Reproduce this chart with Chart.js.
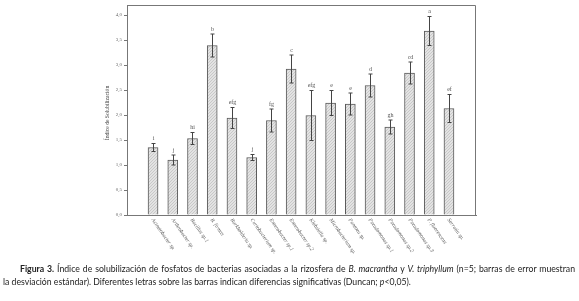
<!DOCTYPE html>
<html>
<head>
<meta charset="utf-8">
<script src="https://cdn.jsdelivr.net/npm/chart.js@4.4.1/dist/chart.umd.min.js"></script>
<style>
    html, body { margin: 0; padding: 0; background: #fff; }
    #wrap { position: relative; width: 579px; height: 301px; overflow: hidden; }
    #chart { position: absolute; left: 0; top: 0; }
    .cap { position: absolute; font-family: Lato, 'Open Sans', sans-serif; font-size: 8.7px; color: #222; white-space: nowrap; }
    #cap1 { left: 20px; top: 263px; width: 555px; text-align: justify; text-align-last: justify; }
    #cap2 { left: 3px; top: 276px; }
</style>
</head>
<body>
<div id="wrap">
    <canvas id="chart" width="579" height="301"></canvas>
    <div class="cap" id="cap1"><b>Figura 3.</b> Índice de solubilización de fosfatos de bacterias asociadas a la rizosfera de <i>B. macrantha</i> y <i>V. triphyllum</i> (n=5; barras de error muestran</div>
    <div class="cap" id="cap2">la desviación estándar). Diferentes letras sobre las barras indican diferencias significativas (Duncan; <i>p</i>&lt;0,05).</div>
</div>
<script>
// ===== Índice de solubilización (bars + SD + Duncan letters) =====
const bacteria = [
    'Acinetobacter sp.', 'Arthrobacter sp.', 'Bacillus sp.1', 'B. firmus',
    'Burkholderia sp.', 'Curtobacterium sp.', 'Enterobacter sp.1', 'Enterobacter sp.2',
    'Klebsiella sp.', 'Microbacterium sp.', 'Pantoea sp.', 'Pseudomonas sp.1',
    'Pseudomonas sp.2', 'Pseudomonas sp.3', 'P. fluorescens', 'Serratia sp.'
];
const means  = [1.35, 1.10, 1.53, 3.39, 1.94, 1.15, 1.89, 2.92, 1.99, 2.24, 2.22, 2.59, 1.76, 2.84, 3.68, 2.13];
const sd     = [0.08, 0.10, 0.12, 0.23, 0.21, 0.06, 0.23, 0.28, 0.50, 0.25, 0.22, 0.23, 0.14, 0.22, 0.29, 0.28];
const letters = ['i', 'j', 'hi', 'b', 'efg', 'j', 'fg', 'c', 'efg', 'e', 'e', 'd', 'gh', 'cd', 'a', 'ef'];
const yTicks = [0, 0.5, 1, 1.5, 2, 2.5, 3, 3.5, 4];

const SERIF = "'Liberation Serif', 'DejaVu Serif', serif";
const fmt = v => v.toFixed(1).replace('.', ',');

// dotted grey fill like the SPSS bars
function dotPattern() {
    const c = document.createElement('canvas');
    c.width = 3; c.height = 3;
    const g = c.getContext('2d');
    g.fillStyle = '#e3e3e3'; g.fillRect(0, 0, 3, 3);
    g.fillStyle = '#c8c8c8'; g.fillRect(0, 0, 1, 1); g.fillRect(2, 1, 1, 1); g.fillRect(1, 2, 1, 1);
    return g.createPattern(c, 'repeat');
}

const extras = {
    id: 'extras',
    afterDatasetsDraw(chart) {
        const { ctx, chartArea: a, scales: { x, y } } = chart;
        ctx.save();

        // frame top + right
        ctx.strokeStyle = '#777';
        ctx.lineWidth = 1;
        ctx.beginPath();
        ctx.moveTo(a.left, a.top + 0.5);
        ctx.lineTo(a.right - 0.5, a.top + 0.5);
        ctx.lineTo(a.right - 0.5, a.bottom);
        ctx.stroke();

        means.forEach((m, i) => {
            const px = Math.round(x.getPixelForValue(i + 1)) + 0.5;
            const top = y.getPixelForValue(m + sd[i]);
            const bot = y.getPixelForValue(m - sd[i]);
            ctx.strokeStyle = '#444';
            ctx.beginPath();
            ctx.moveTo(px, top); ctx.lineTo(px, bot);
            ctx.moveTo(px - 2, top); ctx.lineTo(px + 2, top);
            ctx.moveTo(px - 2, bot); ctx.lineTo(px + 2, bot);
            ctx.stroke();

            ctx.fillStyle = '#555';
            ctx.font = `6px ${SERIF}`;
            ctx.textAlign = 'center';
            ctx.textBaseline = 'bottom';
            ctx.fillText(letters[i], px, top - 2);

            // slanted category labels
            ctx.save();
            ctx.translate(px - 1, a.bottom + 4);
            ctx.rotate(55 * Math.PI / 180);
            ctx.font = `italic 5.4px ${SERIF}`;
            ctx.fillStyle = '#555';
            ctx.textAlign = 'left';
            ctx.textBaseline = 'middle';
            ctx.fillText(bacteria[i], 0, 0);
            ctx.restore();
        });

        // y title
        ctx.save();
        ctx.translate(108, (a.top + a.bottom) / 2 + 3);
        ctx.rotate(-Math.PI / 2);
        ctx.font = `5.6px ${SERIF}`;
        ctx.fillStyle = '#444';
        ctx.textAlign = 'center';
        ctx.textBaseline = 'middle';
        ctx.fillText('Índice de Solubilización', 0, 0);
        ctx.restore();

        ctx.restore();
    }
};

new Chart(document.getElementById('chart'), {
    type: 'bar',
    data: {
        datasets: [{
            data: means.map((v, i) => ({ x: i + 1, y: v })),
            backgroundColor: dotPattern(),
            borderColor: '#5a5a5a',
            borderWidth: 1,
            borderSkipped: 'bottom',
            barThickness: 10
        }]
    },
    options: {
        responsive: false,
        animation: false,
        layout: { padding: { top: 5, right: 103, left: 0, bottom: 0 } },
        plugins: { legend: { display: false }, tooltip: { enabled: false } },
        scales: {
            x: {
                type: 'linear',
                offset: false,
                bounds: 'data',
                min: 1 - 1.32,
                max: 16 + 1.37,
                ticks: { display: false },
                grid: { display: false, offset: false },
                border: { color: '#777' },
                afterFit: s => { s.height = 86; }
            },
            y: {
                min: 0,
                max: 4.2,
                afterBuildTicks: s => { s.ticks = yTicks.map(v => ({ value: v })); },
                ticks: {
                    callback: v => fmt(v),
                    font: { size: 5, family: SERIF },
                    color: '#666',
                    padding: 2
                },
                grid: { drawOnChartArea: false, tickLength: 3, color: '#777' },
                border: { color: '#777' },
                afterFit: s => { s.width = 127; }
            }
        }
    },
    plugins: [extras]
});
</script>
</body>
</html>
